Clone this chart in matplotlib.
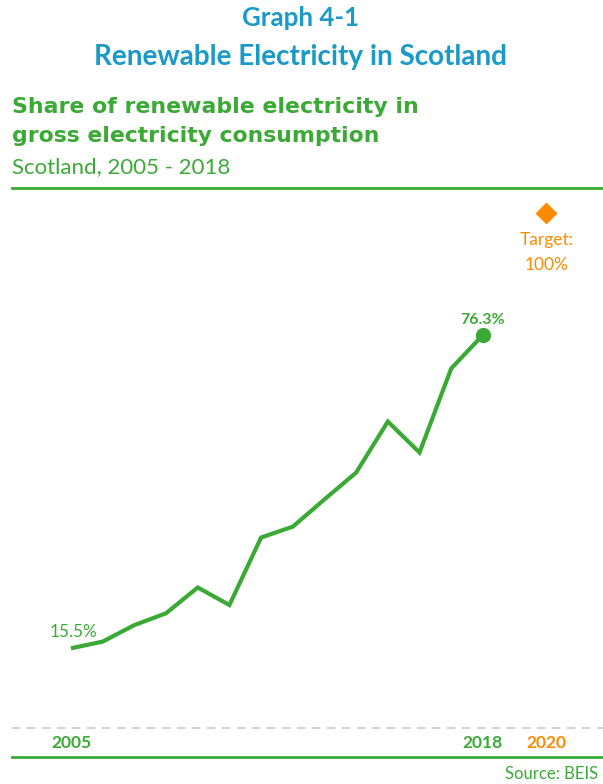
import matplotlib
matplotlib.use("Agg")
import matplotlib.pyplot as plt

years = [2005, 2006, 2007, 2008, 2009, 2010, 2011, 2012, 2013, 2014, 2015, 2016, 2017, 2018]
share = [15.5, 16.8, 20.0, 22.3, 27.3, 23.9, 37.0, 39.1, 44.4, 49.6, 59.5, 53.5, 69.8, 76.3]
target_year = 2020
target_value = 100
tick_years = [2005, 2018, 2020]

GREEN = "#3aaa35"
ORANGE = "#ff8a00"
BLUE = "#1a9ac9"
GREY = "#c9c9c9"

W, H = 603, 784
fig = plt.figure(figsize=(W / 100, H / 100), dpi=100)
ax = fig.add_axes([0, 0, 1, 1])
ax.set_xlim(2002.76, 2021.79)
ax.set_ylim(-10.83, 141.3)
ax.axis("off")

fig.canvas.draw()
renderer = fig.canvas.get_renderer()


def ftext(px, py, s, width=None, size=12, **kw):
    """Place text at pixel coords (from top-left); optionally fit to a pixel width."""
    t = fig.text(px / W, 1 - py / H, s, fontsize=size, **kw)
    if width is not None:
        w = t.get_window_extent(renderer).width
        t.set_fontsize(size * width / w)
    return t


# Titles
ftext(301, 18, "Graph 4-1", width=117, size=15, family="Lato", weight="bold",
      color=BLUE, ha="center", va="center")
ftext(300, 57, "Renewable Electricity in Scotland", width=415, size=15, family="Lato",
      weight="bold", color=BLUE, ha="center", va="center")
ftext(12, 107, "Share of renewable electricity in", width=406, size=16, family="DejaVu Sans",
      weight="bold", color=GREEN, ha="left", va="center")
ftext(12, 136, "gross electricity consumption", width=368, size=16, family="DejaVu Sans",
      weight="bold", color=GREEN, ha="left", va="center")
ftext(12, 167, "Scotland, 2005 - 2018", width=219, size=14, family="Lato", weight="normal",
      color=GREEN, ha="left", va="center")

# Horizontal rules (figure lines)
fig.add_artist(plt.Line2D([12 / W, 1], [1 - 188 / H] * 2, color=GREEN, lw=2))
fig.add_artist(plt.Line2D([12 / W, 1], [1 - 757 / H] * 2, color=GREEN, lw=2))

# Zero baseline dashed
ax.axhline(0, xmin=12 / W, xmax=1, color=GREY, lw=1.2, ls=(0, (5, 4)))

# Main line
ax.plot(years, share, color=GREEN, lw=3.0, solid_capstyle="butt", solid_joinstyle="miter")
ax.plot(years[-1], share[-1], "o", color=GREEN, ms=10)

# Target
ax.plot(target_year, target_value, "D", color=ORANGE, ms=10)

# Annotations
ax.annotate(f"{share[0]}%", (years[0], share[0]), xytext=(2, 6), textcoords="offset points",
            ha="center", va="bottom", color=GREEN, fontsize=12.3, family="Lato", weight="normal")
ax.annotate(f"{share[-1]}%", (years[-1], share[-1]), xytext=(0, 5.5), textcoords="offset points",
            ha="center", va="bottom", color=GREEN, fontsize=11.5, family="Lato", weight="bold")
ax.annotate("Target:\n100%", (target_year, target_value), xytext=(0, -14), textcoords="offset points",
            ha="center", va="top", color=ORANGE, fontsize=12.5, family="Lato", weight="normal",
            linespacing=1.7)

# Year labels
for y in tick_years:
    ax.annotate(str(y), (y, 0), xytext=(0, -11), textcoords="offset points", ha="center", va="center",
                color=ORANGE if y == target_year else GREEN, fontsize=12.5, family="Lato",
                weight="bold")

# Source
ftext(505, 774, "Source: BEIS", size=12, family="Lato", weight="normal", color=GREEN,
      ha="left", va="center")

fig.savefig("out.png", dpi=100)
